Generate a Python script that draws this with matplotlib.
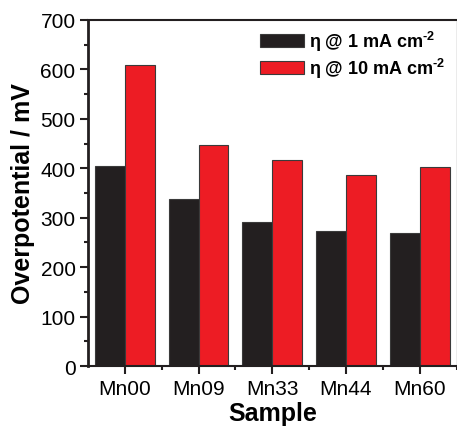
import matplotlib
matplotlib.use("Agg")
import matplotlib.pyplot as plt
import numpy as np
from matplotlib.ticker import MultipleLocator

plt.rcParams['font.family'] = ['Liberation Sans', 'DejaVu Sans']
plt.rcParams['mathtext.fontset'] = 'custom'
plt.rcParams['mathtext.rm'] = 'Liberation Sans:bold'
plt.rcParams['mathtext.bf'] = 'Liberation Sans:bold'

samples = ["Mn00", "Mn09", "Mn33", "Mn44", "Mn60"]
eta_1 = [404, 338, 291, 274, 269]
eta_10 = [608, 447, 416, 386, 402]
series_labels = [r"η @ 1 mA cm$^{\mathbf{\text{-}2}}$", r"η @ 10 mA cm$^{\mathbf{\text{-}2}}$"]
colors = ["#231f20", "#ed1c24"]

fig = plt.figure(figsize=(4.57, 4.27), dpi=100)
ax = fig.add_axes([0.1926, 0.1405, 0.8064, 0.8105])

x = np.arange(len(samples))
w = 0.405
ax.bar(x - w / 2, eta_1, width=w, color=colors[0], edgecolor="#3a3a3a", linewidth=0.8,
       label=series_labels[0])
ax.bar(x + w / 2, eta_10, width=w, color=colors[1], edgecolor="#3a3a3a", linewidth=0.8,
       label=series_labels[1])

ax.set_xlim(-0.5, 4.48)
ax.set_ylim(0, 700)
ax.set_xticks(x)
ax.set_xticklabels(samples)
ax.set_xticks(x + 0.5, minor=True)
ax.yaxis.set_major_locator(MultipleLocator(100))
ax.yaxis.set_minor_locator(MultipleLocator(50))

ax.tick_params(axis='both', which='major', direction='out', length=6, width=1.5,
               labelsize=15, pad=3, color='#231f20')
ax.tick_params(axis='both', which='minor', direction='out', length=3, width=1.5,
               color='#231f20')
ax.tick_params(axis='x', which='major', pad=3.5)

ax.spines['left'].set_linewidth(2.0)
ax.spines['bottom'].set_linewidth(1.5)
ax.spines['top'].set_linewidth(1.5)
ax.spines['right'].set_linewidth(1.0)
ax.spines['right'].set_color('#999999')
for s in ['left', 'bottom', 'top']:
    ax.spines[s].set_color('#231f20')

ax.set_xlabel("Sample", fontsize=18, fontweight='bold', labelpad=2)
ax.set_ylabel("Overpotential / mV", fontsize=18, fontweight='bold', labelpad=4)

leg = ax.legend(loc='upper right', bbox_to_anchor=(1.0, 1.005), frameon=False,
                prop={'size': 13, 'weight': 'bold'}, handlelength=2.4,
                handleheight=0.7, handletextpad=0.3, labelspacing=0.15,
                borderaxespad=0.2)

fig.savefig("out.png", dpi=100)
